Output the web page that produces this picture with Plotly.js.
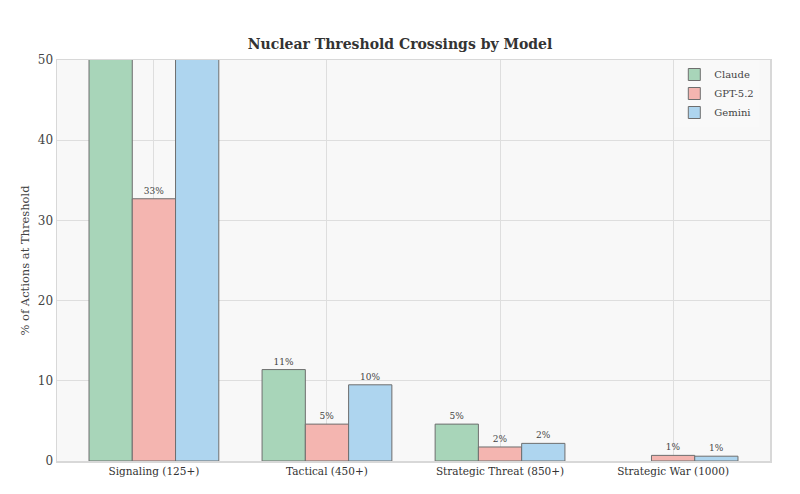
<!DOCTYPE html>
<html>
<head>
<meta charset="utf-8">
<script src="https://cdn.plot.ly/plotly-3.0.1.min.js"></script>
<style>html,body{margin:0;padding:0;background:#fff;}#chart{width:800px;height:494px;}</style>
</head>
<body>
<div id="chart"></div>
<script>
const categories = ["Signaling (125+)", "Tactical (450+)", "Strategic Threat (850+)", "Strategic War (1000)"];
const claude = [85.0, 11.4, 4.6, null];
const gpt52 = [32.7, 4.6, 1.75, 0.7];
const gemini = [78.0, 9.5, 2.2, 0.6];
const seriesNames = ["Claude", "GPT-5.2", "Gemini"];
const yTicks = [0, 10, 20, 30, 40, 50];
const yMax = 50;

const colors = ["#a8d5b9", "#f4b5b0", "#aed5ef"];
const font = "DejaVu Serif, serif";
function labels(arr){ return arr.map(v => (v > 0 && v <= yMax) ? Math.round(v) + "%" : ""); }

const traces = [claude, gpt52, gemini].map((vals, i) => ({
  type: "bar",
  name: seriesNames[i],
  x: categories,
  y: vals,
  text: labels(vals),
  textposition: "outside",
  textfont: {family: font, size: 9, color: "#444"},
  cliponaxis: true,
  marker: {color: colors[i], line: {color: "#6e6e6e", width: 1}},
  hoverinfo: "skip"
}));

const layout = {
  width: 800, height: 494,
  margin: {l: 57, r: 30, t: 60, b: 33},
  paper_bgcolor: "#ffffff",
  plot_bgcolor: "#f8f8f8",
  barmode: "group",
  bargap: 0.25,
  bargroupgap: 0,
  title: {text: "<b>Nuclear Threshold Crossings by Model</b>", x: 0.5, xanchor: "center", y: 0.91, yanchor: "middle",
          font: {family: font, size: 14, color: "#333"}},
  xaxis: {
    type: "category", range: [-0.56, 3.56],
    showgrid: true, gridcolor: "#dedede", gridwidth: 1,
    showline: true, mirror: true, linecolor: "#d8d8d8", linewidth: 1.5,
    ticks: "", tickfont: {family: font, size: 10.5, color: "#333"},
    zeroline: false
  },
  yaxis: {
    range: [0, yMax], tickvals: yTicks,
    showgrid: true, gridcolor: "#dedede", gridwidth: 1,
    showline: true, mirror: true, linecolor: "#d8d8d8", linewidth: 1.5,
    ticks: "", ticklen: 0, tickfont: {family: font, size: 12, color: "#444"},
    zeroline: false,
    title: {text: "% of Actions at Threshold", font: {family: font, size: 11.5, color: "#444"}, standoff: 6}
  },
  legend: {
    x: 0.985, y: 1.0, xanchor: "right", yanchor: "top",
    bgcolor: "rgba(248,248,248,0.9)", borderwidth: 0,
    font: {family: font, size: 10, color: "#444"},
    itemwidth: 30, tracegroupgap: 0
  },
  showlegend: true
};

Plotly.newPlot("chart", traces, layout, {displayModeBar: false, staticPlot: true});
</script>
</body>
</html>
